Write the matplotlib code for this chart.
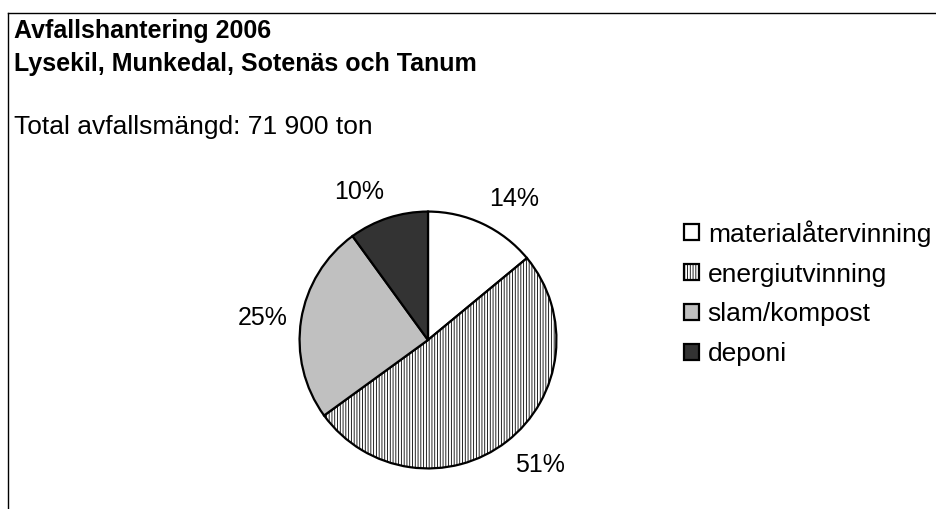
import matplotlib
matplotlib.use("Agg")
import numpy as np
import matplotlib.pyplot as plt
from matplotlib.lines import Line2D

plt.rcParams['font.family'] = ['Liberation Sans', 'DejaVu Sans']
plt.rcParams['hatch.linewidth'] = 0.6

title_lines = ["Avfallshantering 2006", "Lysekil, Munkedal, Sotenäs och Tanum"]
subtitle = "Total avfallsmängd: 71 900 ton"
categories = ["materialåtervinning", "energiutvinning", "slam/kompost", "deponi"]
values = [14, 51, 25, 10]
colors = ["#ffffff", "#ffffff", "#c0c0c0", "#333333"]
hatches = ["", "||||||", "", ""]

W, H = 936, 509
fig = plt.figure(figsize=(W / 100, H / 100), dpi=100)

# frame (left and top edge visible)
fig.add_artist(Line2D([8 / W, 8 / W], [0, 1 - 13 / H], color="black", lw=1, transform=fig.transFigure))
fig.add_artist(Line2D([8 / W, 1], [1 - 13 / H, 1 - 13 / H], color="black", lw=1, transform=fig.transFigure))

fig.text(14 / W, 1 - 38 / H, title_lines[0], fontsize=18, fontweight="bold", va="baseline", ha="left")
fig.text(14 / W, 1 - 71 / H, title_lines[1], fontsize=18, fontweight="bold", va="baseline", ha="left")
fig.text(14 / W, 1 - 134 / H, subtitle, fontsize=19, va="baseline", ha="left")

cx, cy, r = 428, 340, 131
ax = fig.add_axes([(cx - r) / W, (H - cy - r) / H, 2 * r / W, 2 * r / H])
pct_labels = [f"{v}%" for v in values]
wedges, texts = ax.pie(
    values, colors=colors, hatch=hatches, startangle=90, counterclock=False,
    labels=pct_labels, labeldistance=1.11, radius=1,
    wedgeprops=dict(edgecolor="black", linewidth=1.6),
    textprops=dict(fontsize=18, color="black"),
)
for t in texts:
    x, y = t.get_position()
    if abs(y) < 0.35:
        t.set_va("center")
    else:
        t.set_va("bottom" if y > 0 else "top")
ax.set_xlim(-1.02, 1.02)
ax.set_ylim(-1.02, 1.02)
ax.set_aspect("equal")
ax.axis("off")

leg = fig.legend(wedges, categories, loc="upper left", bbox_to_anchor=(684 / W, 1 - 220 / H),
                 frameon=False, fontsize=19, handlelength=0.55, handleheight=0.55,
                 handletextpad=0.35, labelspacing=0.6, borderpad=0, borderaxespad=0)
for h in leg.legend_handles:
    h.set_linewidth(1.6)

fig.savefig("out.png", dpi=100)
